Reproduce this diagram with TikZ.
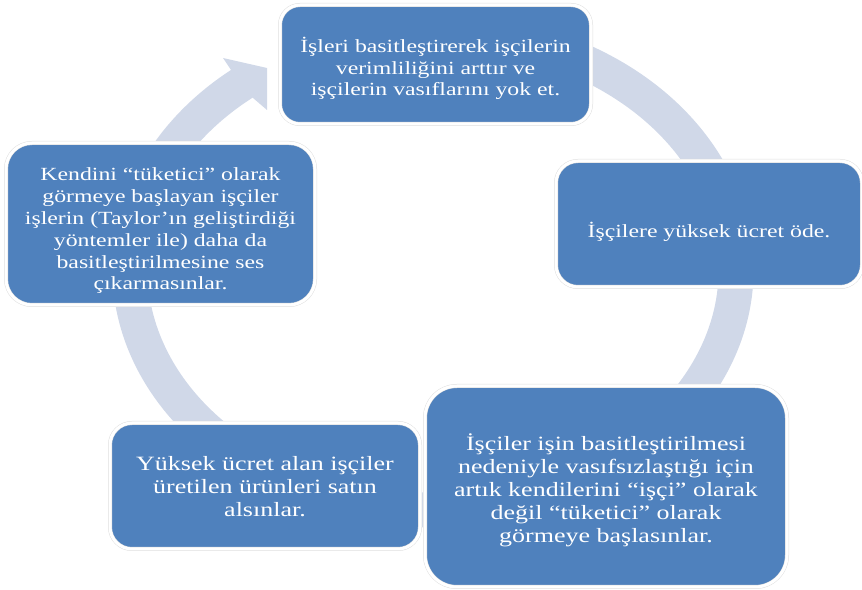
\documentclass[tikz,border=0pt]{standalone}
\usepackage{fontspec}
\setmainfont{Liberation Serif}[FakeStretch=1.28]
\usetikzlibrary{calc}
\definecolor{boxblue}{HTML}{4F81BD}
\definecolor{arcc}{HTML}{D0D8E8}
\begin{document}
\begin{tikzpicture}[x=1pt,y=1pt,
  cbox/.style={rectangle, rounded corners=#1, fill=boxblue, draw=gray!25,
    double=white, double distance=3pt, line width=0.5pt, inner sep=0pt},
  cbox/.default=20pt,
  txt/.style={text=white, align=center, inner sep=0pt},
  fa/.style={font=\fontsize{18.56}{21.8}\selectfont},
  fb/.style={font=\fontsize{20.3}{23}\selectfont}
]
\useasboundingbox (0,0) rectangle (862,589);
\coordinate (C) at (433,319);
\coordinate (A0) at ($(C)+(65:303 and 240)$);
% circular arrow band
\draw[arcc, line width=35pt] (A0) arc[start angle=65, end angle=-232, x radius=303pt, y radius=240pt];
\coordinate (H1) at (223,531);
\coordinate (H2) at (267,521);
\coordinate (H3) at (267,479);
\coordinate (H4) at (253,491);
\coordinate (H5) at (231,519);
\fill[arcc] (H1) -- (H2) -- (H3) -- (H4) -- (H5) -- cycle;
% boxes
\node[cbox=20pt, minimum width=311pt, minimum height=119pt] (top) at (435.5,524.5) {};
\node[cbox=22pt, minimum width=306pt, minimum height=126pt] (right) at (709,365) {};
\node[cbox=32pt, minimum width=362pt, minimum height=201pt] (br) at (606,102.5) {};
\node[cbox=22pt, minimum width=310pt, minimum height=126pt] (bl) at (265,103) {};
\node[cbox=26pt, minimum width=309pt, minimum height=162pt] (left) at (160.5,365) {};
% texts
\node[txt, fa] (topt) at ([yshift=-4pt]top.center)
  {İşleri basitleştirerek işçilerin\\verimliliğini arttır ve\\işçilerin vasıflarını yok et.};
\node[txt, fa] (rightt) at ([yshift=-8pt]right.center)
  {İşçilere yüksek ücret öde.};
\node[txt, fb] (brt) at ([yshift=-3.5pt]br.center)
  {İşçiler işin basitleştirilmesi\\nedeniyle vasıfsızlaştığı için\\artık kendilerini “işçi” olarak\\değil “tüketici” olarak\\görmeye başlasınlar.};
\node[txt, fb] (blt) at ([yshift=-0.5pt]bl.center)
  {Yüksek ücret alan işçiler\\üretilen ürünleri satın\\alsınlar.};
\node[txt, fa] (leftt) at ([yshift=-7pt]left.center)
  {Kendini “tüketici” olarak\\görmeye başlayan işçiler\\işlerin (Taylor’ın geliştirdiği\\yöntemler ile) daha da\\basitleştirilmesine ses\\çıkarmasınlar.};
\end{tikzpicture}
\end{document}
